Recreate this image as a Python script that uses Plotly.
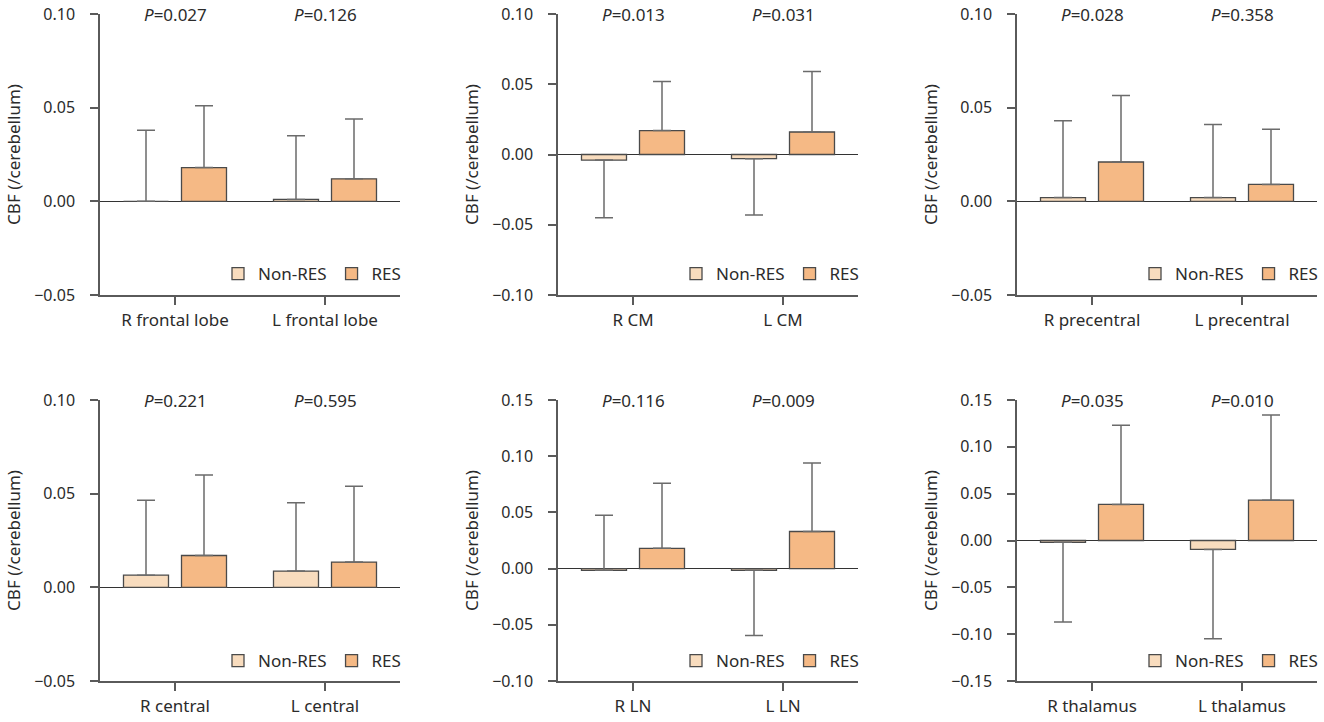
import plotly.graph_objects as go

# ---------------- data ----------------
categories = [
    ["R frontal lobe", "L frontal lobe"],
    ["R CM", "L CM"],
    ["R precentral", "L precentral"],
    ["R central", "L central"],
    ["R LN", "L LN"],
    ["R thalamus", "L thalamus"],
]
p_values = [
    ["0.027", "0.126"],
    ["0.013", "0.031"],
    ["0.028", "0.358"],
    ["0.221", "0.595"],
    ["0.116", "0.009"],
    ["0.035", "0.010"],
]
nonres_mean = [
    [0.000, 0.001],
    [-0.004, -0.003],
    [0.002, 0.002],
    [0.0065, 0.0087],
    [-0.0015, -0.0015],
    [-0.002, -0.0095],
]
nonres_err_up = [
    [0.038, 0.034],
    [0.0, 0.0],
    [0.041, 0.039],
    [0.040, 0.0365],
    [0.049, 0.0],
    [0.0, 0.0],
]
nonres_err_down = [
    [0.0, 0.0],
    [0.041, 0.040],
    [0.0, 0.0],
    [0.0, 0.0],
    [0.0, 0.058],
    [0.085, 0.0955],
]
res_mean = [
    [0.018, 0.012],
    [0.017, 0.016],
    [0.021, 0.009],
    [0.017, 0.0135],
    [0.018, 0.033],
    [0.0385, 0.043],
]
res_err_up = [
    [0.033, 0.032],
    [0.035, 0.043],
    [0.0355, 0.0295],
    [0.043, 0.0405],
    [0.058, 0.061],
    [0.0845, 0.091],
]
y_ranges = [
    [-0.05, 0.10],
    [-0.10, 0.10],
    [-0.05, 0.10],
    [-0.05, 0.10],
    [-0.10, 0.15],
    [-0.15, 0.15],
]
y_tick_step = [0.05, 0.05, 0.05, 0.05, 0.05, 0.05]
series_names = ["Non-RES", "RES"]

# ---------------- styling ----------------
W, H = 1324, 722
FONT = "Noto Sans"
TXT = "#2b2b2b"
C_NONRES = "#F8DCBE"
C_RES = "#F5B985"
OUTLINE = "#4a4a4a"
ERR = "#6b6b6b"
AXIS = "#5a5a5a"

# pixel boxes of each plot area: (left, right, top, bottom)
col_px = [(100, 400), (558, 858), (1017, 1317)]
row_px = [(14, 295), (400, 681)]
legend_y_px = [274, 661]

fig = go.Figure()
layout = dict(
    template="none",
    width=W, height=H,
    margin=dict(l=0, r=0, t=0, b=0, pad=0),
    paper_bgcolor="white", plot_bgcolor="white",
    barmode="group", bargap=0.2267, bargroupgap=0.224,
    font=dict(family=FONT, size=16, color=TXT),
    annotations=[],
)

for k in range(6):
    r, c = divmod(k, 3)
    sfx = "" if k == 0 else str(k + 1)
    xa, ya = "x" + sfx, "y" + sfx
    leg = "legend" + sfx
    x0, x1 = col_px[c]
    t, b = row_px[r]
    err_style = dict(color=ERR, thickness=1.5, width=9)

    fig.add_trace(go.Bar(
        x=categories[k], y=nonres_mean[k], name=series_names[0],
        marker=dict(color=C_NONRES, line=dict(color=OUTLINE, width=1.3)),
        error_y=dict(type="data", symmetric=False, array=nonres_err_up[k],
                     arrayminus=nonres_err_down[k], **err_style),
        xaxis=xa, yaxis=ya, legend=leg, showlegend=True,
    ))
    fig.add_trace(go.Bar(
        x=categories[k], y=res_mean[k], name=series_names[1],
        marker=dict(color=C_RES, line=dict(color=OUTLINE, width=1.3)),
        error_y=dict(type="data", symmetric=False, array=res_err_up[k],
                     arrayminus=[0.0, 0.0], **err_style),
        xaxis=xa, yaxis=ya, legend=leg, showlegend=True,
    ))

    lo, hi = y_ranges[k]
    n = int(round((hi - lo) / y_tick_step[k]))
    tickvals = [round(lo + i * y_tick_step[k], 4) for i in range(n + 1)]

    layout["xaxis" + sfx] = dict(
        domain=[x0 / W, x1 / W], anchor=ya, range=[-0.5, 1.5],
        automargin=False,
        showline=True, linecolor=AXIS, linewidth=1.5,
        ticks="outside", ticklen=8, tickwidth=1.5, tickcolor=AXIS,
        showgrid=False, zeroline=False,
        tickfont=dict(family=FONT, size=17, color=TXT),
        ticklabelstandoff=1,
        fixedrange=True,
    )
    layout["yaxis" + sfx] = dict(
        domain=[1 - b / H, 1 - t / H], anchor=xa, range=[lo, hi],
        automargin=False,
        tickvals=tickvals, tickformat=".2f",
        showline=True, linecolor=AXIS, linewidth=1.5,
        ticks="outside", ticklen=8, tickwidth=1.5, tickcolor=AXIS,
        showgrid=False, zeroline=True, zerolinecolor="#333333", zerolinewidth=1.2,
        tickfont=dict(family=FONT, size=16, color=TXT),
        ticklabelstandoff=12,
        title=dict(text="CBF (/cerebellum)", standoff=9,
                   font=dict(family=FONT, size=17, color=TXT)),
        fixedrange=True,
    )
    layout[leg] = dict(
        orientation="h", x=(x1 + 6) / W, xanchor="right",
        y=1 - legend_y_px[r] / H, yanchor="middle",
        bgcolor="rgba(0,0,0,0)", font=dict(family=FONT, size=17, color=TXT),
        itemclick=False, itemdoubleclick=False,
    )
    for j, cat in enumerate(categories[k]):
        layout["annotations"].append(dict(
            x=cat, y=hi, xref=xa, yref=ya, showarrow=False,
            text="<i>P</i>=" + p_values[k][j], yanchor="middle",
            font=dict(family=FONT, size=17, color=TXT),
        ))

fig.update_layout(**layout)
fig.write_html(
    "out.html",
    config={"displayModeBar": False, "staticPlot": False},
    post_script="document.body.style.margin='0';document.body.style.padding='0';",
)
